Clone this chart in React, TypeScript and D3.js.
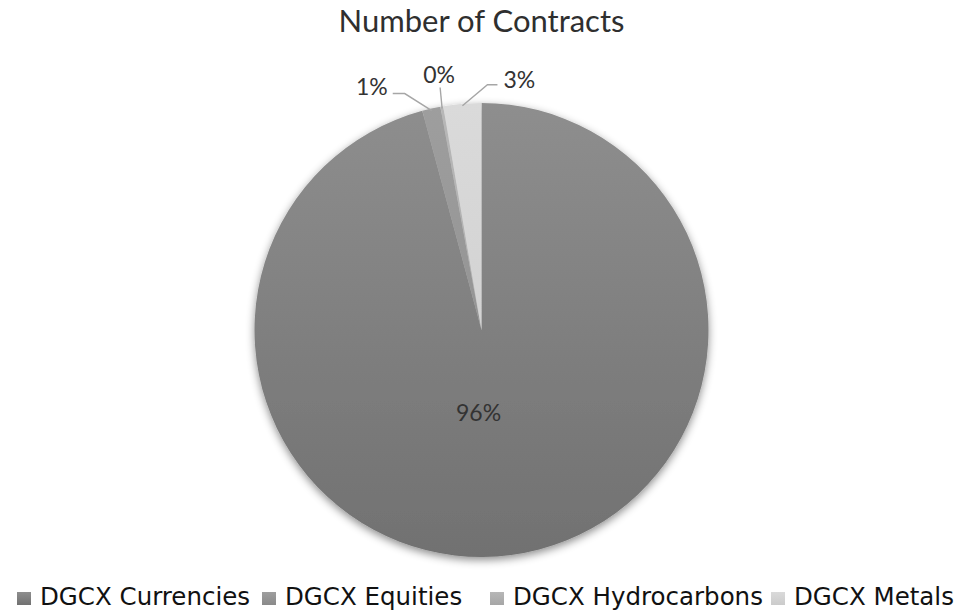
import React, {useEffect, useRef} from 'react';
import * as d3 from 'd3';

const title = 'Number of Contracts';
const categories = ['DGCX Currencies', 'DGCX Equities', 'DGCX Hydrocarbons', 'DGCX Metals'];
const shares = [95.8, 1.3, 0.2, 2.7];
const labels = ['96%', '1%', '0%', '3%'];

const W = 966;
const H = 612;

const App: React.FC = () => {
  const ref = useRef<SVGSVGElement>(null);

  useEffect(() => {
    const svg = d3.select(ref.current);
    svg.selectAll('*').remove();

    const cx = 481.5, cy = 330, r = 227;
    const topColors = ['#8e8e8e', '#9e9e9e', '#b7b7b7', '#dadada'];
    const bottomColors = ['#717171', '#8a8a8a', '#a6a6a6', '#cbcbcb'];

    const defs = svg.append('defs');
    const shadow = defs.append('filter').attr('id', 'shadow')
      .attr('x', '-10%').attr('y', '-10%').attr('width', '120%').attr('height', '120%');
    shadow.append('feDropShadow').attr('dx', 0).attr('dy', 3).attr('stdDeviation', 4)
      .attr('flood-color', '#000').attr('flood-opacity', 0.45);

    categories.forEach((_, i) => {
      const g = defs.append('linearGradient').attr('id', 'grad' + i)
        .attr('gradientUnits', 'userSpaceOnUse')
        .attr('x1', 0).attr('y1', -r).attr('x2', 0).attr('y2', r);
      g.append('stop').attr('offset', '0%').attr('stop-color', topColors[i]);
      g.append('stop').attr('offset', '100%').attr('stop-color', bottomColors[i]);
      const lg = defs.append('linearGradient').attr('id', 'lgrad' + i)
        .attr('x1', 0).attr('y1', 0).attr('x2', 0).attr('y2', 1);
      lg.append('stop').attr('offset', '0%').attr('stop-color', topColors[i]);
      lg.append('stop').attr('offset', '100%').attr('stop-color', bottomColors[i]);
    });

    svg.append('text')
      .attr('x', cx).attr('y', 32)
      .attr('text-anchor', 'middle')
      .style('font', '31px Lato, sans-serif')
      .attr('fill', '#2f2f2f')
      .text(title);

    const pie = d3.pie<number>().sort(null).value(d => d);
    const arcs = pie(shares);
    const arc = d3.arc<d3.PieArcDatum<number>>().innerRadius(0).outerRadius(r);
    const edge = d3.arc<d3.PieArcDatum<number>>().innerRadius(r - 2).outerRadius(r - 2);

    const g = svg.append('g').attr('transform', `translate(${cx},${cy})`);
    g.append('g').attr('filter', 'url(#shadow)')
      .selectAll('path')
      .data(arcs)
      .join('path')
      .attr('d', d => arc(d) as string)
      .attr('fill', (_, i) => `url(#grad${i})`);

    // big slice label
    const big = d3.arc<d3.PieArcDatum<number>>().innerRadius(84).outerRadius(84);
    const [bx, by] = big.centroid(arcs[0]);
    g.append('text')
      .attr('x', bx - 14).attr('y', by + 8)
      .attr('text-anchor', 'middle')
      .style('font', '23px Lato, sans-serif')
      .attr('fill', '#333')
      .text(labels[0]);

    // leader-line layout for the thin slices: elbow and tail offsets from the edge point
    const elbow = [null, [-27, -17], [-2, -21], [25, -21]];
    const tail = [null, [-12, 0], [0, 0], [10, 0]];
    const anchor = ['middle', 'end', 'middle', 'start'];
    const textOff = [null, [-5, 1], [-1, -4], [6, 3]];

    arcs.forEach((d, i) => {
      if (i === 0) return;
      const [ex, ey] = edge.centroid(d);
      const [ox, oy] = elbow[i] as number[];
      const mx = ex + ox, my = ey + oy;
      const [tx, ty] = tail[i] as number[];
      const lx = mx + tx, ly = my + ty;
      g.append('polyline')
        .attr('points', `${ex},${ey} ${mx},${my} ${lx},${ly}`)
        .attr('fill', 'none')
        .attr('stroke', '#a6a6a6')
        .attr('stroke-width', 1.4);
      const [px, py] = textOff[i] as number[];
      g.append('text')
        .attr('x', lx + px).attr('y', ly + py)
        .attr('text-anchor', anchor[i])
        .style('font', '23px Lato, sans-serif')
        .attr('fill', '#333')
        .text(labels[i]);
    });

    // legend
    const legendX = [17, 262, 490, 771];
    const lg = svg.append('g').attr('transform', 'translate(0,590)');
    categories.forEach((c, i) => {
      lg.append('rect')
        .attr('x', legendX[i]).attr('y', 2)
        .attr('width', 14).attr('height', 13)
        .attr('fill', `url(#lgrad${i})`);
      lg.append('text')
        .attr('x', legendX[i] + 23).attr('y', 15)
        .style('font', '24.5px "DejaVu Sans", sans-serif')
        .attr('fill', '#111')
        .text(c);
    });
  }, []);

  return (
    <svg ref={ref} width={W} height={H}
         style={{position: 'absolute', left: 0, top: 0, background: '#fff'}}/>
  );
};

export default App;
